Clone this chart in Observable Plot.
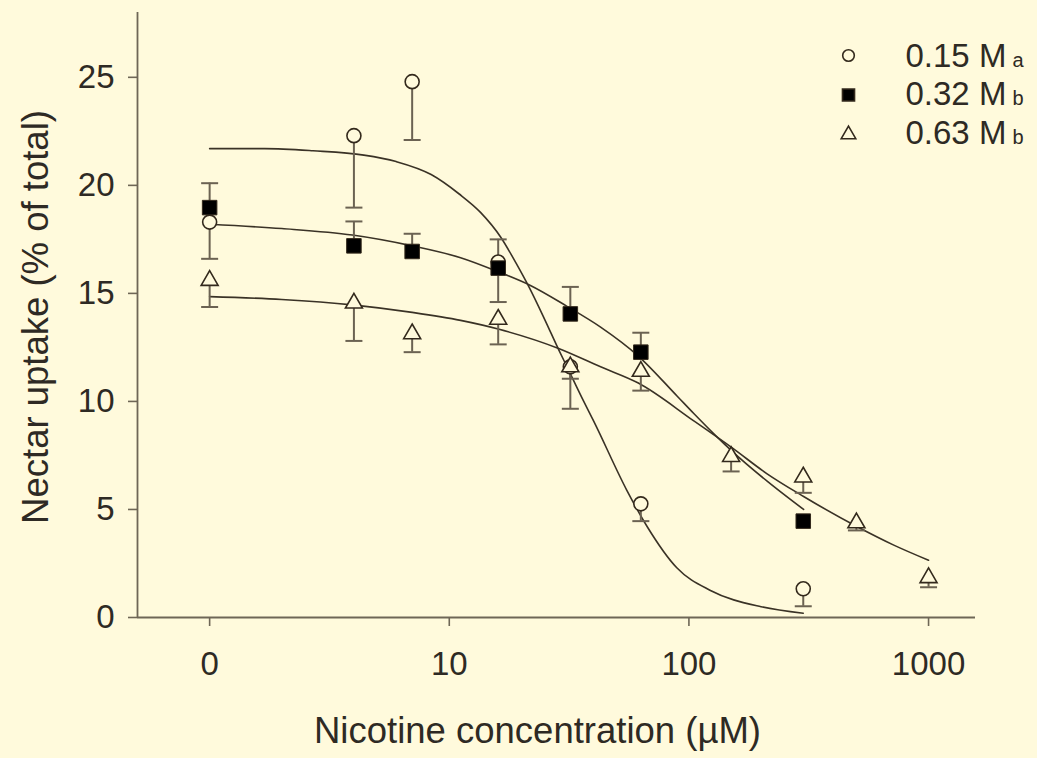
<!DOCTYPE html>
<html>
<head>
<meta charset="utf-8">
<script src="https://cdn.jsdelivr.net/npm/d3@7"></script>
<script src="https://cdn.jsdelivr.net/npm/@observablehq/plot@0.6"></script>
<style>
  html, body { margin: 0; padding: 0; background: #fffadc; }
</style>
</head>
<body>
<div id="chart"></div>
<script>
// ---------- data ----------
const xTicks = [1, 10, 100, 1000];
const xTickLabels = ["0", "10", "100", "1000"];
const yTicks = [0, 5, 10, 15, 20, 25];
const xDomain = [0.5, 1570];
const yDomain = [0, 28];

const seriesNames = ["0.15 M", "0.32 M", "0.63 M"];
const seriesLetters = ["a", "b", "b"];

// 0.15 M (open circles), error bars point downward
const conc015 = [1, 4, 7, 16, 32, 63, 300];
const mean015 = [18.3, 22.3, 24.8, 16.45, 11.6, 5.26, 1.33];
const errEnd015 = [16.6, 18.97, 22.1, 14.6, 9.66, 4.46, 0.52];

// 0.32 M (filled squares), error bars point upward
const conc032 = [1, 4, 7, 16, 32, 63, 300];
const mean032 = [18.97, 17.2, 16.94, 16.17, 14.05, 12.28, 4.46];
const errEnd032 = [20.1, 18.33, 17.76, 17.5, 15.3, 13.18, 4.46];

// 0.63 M (open triangles), error bars point downward
const conc063 = [1, 4, 7, 16, 32, 63, 150, 300, 500, 1000];
const mean063 = [15.6, 14.55, 13.13, 13.8, 11.6, 11.39, 7.45, 6.5, 4.38, 1.84];
const errEnd063 = [14.37, 12.8, 12.28, 12.64, 11.05, 10.5, 6.76, 5.77, 4.03, 1.4];

// fitted curves
const fitX015 = [1, 1.7, 2.7, 4.4, 6, 8.4, 11, 13.5, 16.4, 19, 21.5, 25, 28.6, 31, 36.4, 40, 55, 67, 89, 123, 200, 300];
const fitY015 = [21.7, 21.7, 21.6, 21.4, 21.1, 20.5, 19.6, 18.75, 17.6, 16.4, 15.3, 13.8, 12.4, 11.6, 10.0, 9.1, 5.9, 4.2, 2.3, 1.25, 0.5, 0.2];

const fitX032 = [1, 2, 3.94, 7, 11.15, 16, 21.5, 31, 42.8, 61.5, 89.4, 104.8, 129, 151.6, 212, 301];
const fitY032 = [18.2, 18.0, 17.7, 17.2, 16.65, 16.0, 15.4, 14.4, 13.44, 12.1, 10.24, 9.44, 8.43, 7.69, 6.31, 5.0];

const fitX063 = [1, 2, 3.94, 7, 11.15, 16, 28.6, 42.8, 61.5, 104.8, 151.6, 212, 301, 504, 716, 1000];
const fitY063 = [14.85, 14.72, 14.47, 14.12, 13.75, 13.35, 12.45, 11.6, 10.85, 9.1, 7.85, 6.65, 5.6, 4.2, 3.35, 2.65];

// ---------- tables ----------
const toPts = (xs, ys, es) => xs.map((x, i) => ({x, y: ys[i], e: es ? es[i] : undefined}));
const pts015 = toPts(conc015, mean015, errEnd015);
const pts032 = toPts(conc032, mean032, errEnd032);
const pts063 = toPts(conc063, mean063, errEnd063);
const fit015 = toPts(fitX015, fitY015);
const fit032 = toPts(fitX032, fitY032);
const fit063 = toPts(fitX063, fitY063);
const allPts = [...pts015, ...pts032, ...pts063].filter(d => d.e !== d.y);

// ---------- styles ----------
const bg = "#fffadc";
const axisColor = "#6e6656";
const barColor = "#6b6252";
const lineColor = "#3a3226";
const markColor = "#33291c";
const textColor = "#2e2a24";
const font = "'Liberation Sans', Arial, Helvetica, sans-serif";

const capSymbol = {
  draw(context, size) {
    const h = Math.sqrt(size / Math.PI);
    context.moveTo(-h, 0);
    context.lineTo(h, 0);
  }
};

const legendSymbols = ["circle", "square", "triangle"];
const legendR = [5.8, 6.8, 5.4];
const legendFill = [bg, "#000", bg];

const legendMarks = seriesNames.flatMap((name, i) => [
  Plot.dot([name], {
    frameAnchor: "top-right", symbol: legendSymbols[i], r: legendR[i],
    fill: legendFill[i], stroke: markColor, strokeWidth: 1.6,
    dx: -127, dy: 43 + i * 39.5
  }),
  Plot.text([name], {
    frameAnchor: "top-right", text: d => d, textAnchor: "start", lineAnchor: "bottom",
    fontSize: 33, fill: textColor, dx: -70, dy: 54 + i * 38.5
  }),
  Plot.text([seriesLetters[i]], {
    frameAnchor: "top-right", text: d => d, textAnchor: "start", lineAnchor: "bottom",
    fontSize: 20, fill: textColor, dx: 37, dy: 54 + i * 38.5
  })
]);

const chart = Plot.plot({
  width: 1037,
  height: 758,
  marginLeft: 137,
  marginRight: 62,
  marginTop: 12,
  marginBottom: 141,
  style: {background: bg, fontFamily: font, fontSize: "33px", color: textColor, overflow: "visible"},
  x: {type: "log", domain: xDomain, axis: null},
  y: {domain: yDomain, axis: null},
  marks: [
    Plot.axisY({ticks: yTicks, tickSize: 9, tickPadding: 14, label: null,
      stroke: axisColor, strokeWidth: 1.6, fill: textColor, fontSize: 33}),
    Plot.axisX({ticks: xTicks, tickSize: 9, tickPadding: 25, label: null,
      tickFormat: d => xTickLabels[xTicks.indexOf(d)],
      stroke: axisColor, strokeWidth: 1.6, fill: textColor, fontSize: 33}),
    Plot.ruleX([xDomain[0]], {stroke: axisColor, strokeWidth: 1.8}),
    Plot.ruleY([yDomain[0]], {stroke: axisColor, strokeWidth: 1.8}),
    Plot.text(["Nectar uptake (% of total)"], {
      frameAnchor: "left", text: d => d, rotate: -90, textAnchor: "middle", lineAnchor: "bottom",
      fontSize: 36.5, fill: textColor, dx: -90, dy: 2
    }),
    Plot.text(["Nicotine concentration (\u00b5M)"], {
      frameAnchor: "bottom", text: d => d, textAnchor: "middle", lineAnchor: "bottom",
      fontSize: 36.5, fill: textColor, dx: -19, dy: 125
    }),
    // fitted curves
    Plot.line(fit015, {x: "x", y: "y", curve: "monotone-x", stroke: lineColor, strokeWidth: 1.6}),
    Plot.line(fit032, {x: "x", y: "y", curve: "monotone-x", stroke: lineColor, strokeWidth: 1.6}),
    Plot.line(fit063, {x: "x", y: "y", curve: "monotone-x", stroke: lineColor, strokeWidth: 1.6}),
    // error bars
    Plot.ruleX(allPts, {x: "x", y1: "y", y2: "e", stroke: barColor, strokeWidth: 2}),
    Plot.dot(allPts, {x: "x", y: "e", symbol: capSymbol, r: 8.5, fill: "none", stroke: barColor, strokeWidth: 2}),
    // markers
    Plot.dot(pts015, {x: "x", y: "y", symbol: "circle", r: 7, fill: bg, stroke: markColor, strokeWidth: 1.6}),
    Plot.dot(pts032, {x: "x", y: "y", symbol: "square", r: 8.2, fill: "#000", stroke: markColor, strokeWidth: 1}),
    Plot.dot(pts063, {x: "x", y: "y", symbol: "triangle", r: 6.3, fill: bg, stroke: markColor, strokeWidth: 1.6}),
    ...legendMarks
  ]
});

document.getElementById("chart").appendChild(chart);
</script>
</body>
</html>
